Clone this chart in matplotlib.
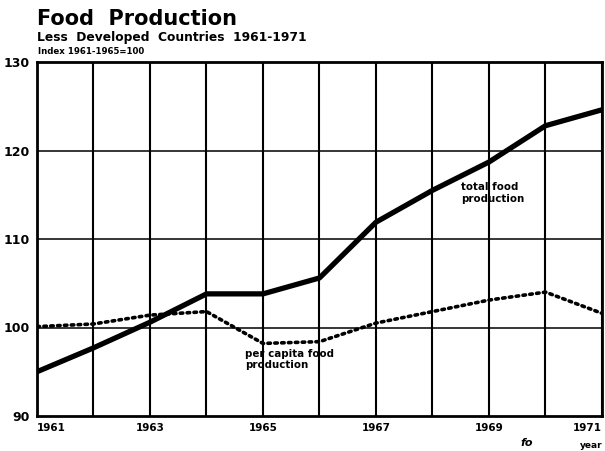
import matplotlib
matplotlib.use("Agg")
import matplotlib.pyplot as plt

years = [1961, 1962, 1963, 1964, 1965, 1966, 1967, 1968, 1969, 1970, 1971]
total_food = [95.0, 97.7, 100.6, 103.8, 103.8, 105.6, 111.9, 115.5, 118.7, 122.8, 124.6]
per_capita = [100.1, 100.4, 101.4, 101.8, 98.2, 98.4, 100.5, 101.8, 103.1, 104.0, 101.6]
y_ticks = [90, 100, 110, 120, 130]
x_tick_years = [1961, 1963, 1965, 1967, 1969, 1971]

plt.rcParams["font.family"] = ["DejaVu Sans"]
plt.rcParams["font.weight"] = "bold"

W, H = 605, 451
fig = plt.figure(figsize=(W / 100, H / 100), dpi=100)
ax = fig.add_axes([37 / W, (H - 416) / H, (602 - 37) / W, (416 - 62) / H])

ax.set_xlim(years[0], years[-1])
ax.set_ylim(90, 130)

# hand-ruled grid: one vertical per year, horizontals at each 10
for yr in years:
    ax.axvline(yr, color="black", lw=1.5, zorder=1)
for v in y_ticks[1:-1]:
    ax.axhline(v, color="black", lw=1.1, zorder=1)

ax.plot(years, total_food, color="black", lw=3.8, solid_capstyle="round",
        solid_joinstyle="round", zorder=3)
ax.plot(years, per_capita, color="black", lw=2.6, linestyle=(0, (0.7, 1.2)),
        dash_capstyle="round", zorder=3)

for s in ax.spines.values():
    s.set_linewidth(2.0)

ax.set_yticks(y_ticks)
ax.set_yticklabels([str(v) for v in y_ticks], fontsize=9, fontweight="bold")
ax.set_xticks(x_tick_years)
ax.set_xticklabels([str(v) for v in x_tick_years], fontsize=7.5, fontweight="bold")
ax.tick_params(length=0, pad=5)
xlabels = ax.get_xticklabels()
xlabels[0].set_ha("left")
xlabels[-1].set_ha("right")

ax.text(1968.5, 116.4, "total food\nproduction", fontsize=7.4, fontweight="bold",
        linespacing=1.2, ha="left", va="top", zorder=4)
ax.text(1964.68, 97.6, "per capita food\nproduction", fontsize=7.4, fontweight="bold",
        linespacing=1.2, ha="left", va="top", zorder=4)

fig.text(37 / W, 1 - 19 / H, "Food  Production", fontsize=15, fontweight="bold",
         ha="left", va="center")
fig.text(37 / W, 1 - 37 / H, "Less  Developed  Countries  1961-1971", fontsize=8.8,
         fontweight="bold", ha="left", va="center")
fig.text(38 / W, 1 - 52 / H, "Index 1961-1965=100", fontsize=6.2, fontweight="bold",
         ha="left", va="center")
fig.text(603 / W, 1 - 446 / H, "year", fontsize=6.5, fontweight="bold",
         ha="right", va="center")
fig.text(527 / W, 1 - 443 / H, "fo", fontsize=8, fontweight="bold", style="italic",
         ha="center", va="center")

fig.savefig("out.png", dpi=100)
